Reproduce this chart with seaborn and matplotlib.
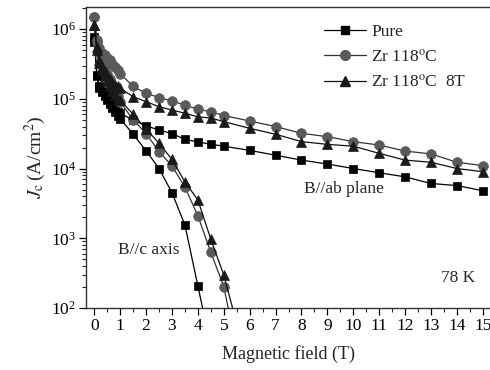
import numpy as np
import pandas as pd
import matplotlib
matplotlib.use("Agg")
import matplotlib.pyplot as plt
import seaborn as sns
from matplotlib.ticker import LogLocator, MultipleLocator, NullFormatter

# ---- data ----
x_ab = [0, 0.1, 0.2, 0.3, 0.4, 0.5, 0.6, 0.7, 0.8, 0.9, 1.0, 1.5, 2.0, 2.5, 3.0, 3.5, 4.0,
        4.5, 5.0, 6, 7, 8, 9, 10, 11, 12, 13, 14, 15]
pure_ab = [7.6e5, 2.2e5, 1.5e5, 1.3e5, 1.17e5, 1.02e5, 8.9e4, 7.9e4, 7.1e4, 6.5e4, 6.2e4,
           4.95e4, 4.1e4, 3.56e4, 3.17e4, 2.62e4, 2.41e4, 2.23e4, 2.09e4, 1.82e4, 1.55e4,
           1.32e4, 1.16e4, 1.0e4, 8.7e3, 7.6e3, 6.1e3, 5.7e3, 4.8e3]
zr_ab = [1.5e6, 7.0e5, 5.3e5, 4.6e5, 4.2e5, 3.9e5, 3.6e5, 3.2e5, 2.9e5, 2.55e5, 2.3e5,
         1.5e5, 1.2e5, 1.04e5, 9.3e4, 8.1e4, 7.1e4, 6.5e4, 5.75e4, 4.8e4, 4.0e4,
         3.2e4, 2.86e4, 2.43e4, 2.17e4, 1.78e4, 1.62e4, 1.23e4, 1.1e4]
zr8_ab = [1.15e6, 5.5e5, 3.6e5, 2.9e5, 2.5e5, 2.2e5, 1.95e5, 1.75e5, 1.6e5, 1.5e5, 1.42e5,
          1.07e5, 9.1e4, 7.7e4, 6.9e4, 6.2e4, 5.5e4, 5.3e4, 4.7e4, 3.77e4, 3.1e4,
          2.43e4, 2.22e4, 2.09e4, 1.65e4, 1.32e4, 1.23e4, 1.0e4, 9.0e3]

x_c_pure = [0, 0.1, 0.2, 0.3, 0.4, 0.5, 0.6, 0.7, 0.8, 0.9, 1.0, 1.5, 2.0, 2.5, 3.0, 3.5, 4.0, 4.5]
pure_c = [6.6e5, 2.1e5, 1.45e5, 1.25e5, 1.1e5, 9.5e4, 8.3e4, 7.3e4, 6.4e4, 5.7e4, 5.2e4,
          3.1e4, 1.8e4, 1.0e4, 4.5e3, 1.55e3, 207, 28]
x_c_zr = [0, 0.1, 0.2, 0.3, 0.4, 0.5, 0.6, 0.7, 0.8, 0.9, 1.0, 1.5, 2.0, 2.5, 3.0, 3.5, 4.0,
          4.5, 5.0, 5.5]
zr_c = [1.5e6, 6.5e5, 4.5e5, 3.5e5, 2.8e5, 2.3e5, 1.9e5, 1.6e5, 1.3e5, 1.1e5, 9.0e4,
        5.0e4, 3.17e4, 1.75e4, 1.09e4, 5.4e3, 2.1e3, 630, 202, 26]
zr8_c = [1.15e6, 5.0e5, 3.3e5, 2.6e5, 2.1e5, 1.8e5, 1.5e5, 1.3e5, 1.15e5, 1.0e5, 9.5e4,
         6.0e4, 3.7e4, 2.3e4, 1.35e4, 6.4e3, 3.55e3, 966, 297, 60]

labels = ["Pure", "Zr 118$^{\\mathrm{o}}$C", "Zr 118$^{\\mathrm{o}}$C  8T"]
x_ticks = list(range(0, 16))

# ---- style ----
sns.set_theme(style="ticks")
plt.rcParams["font.family"] = ["Liberation Serif", "DejaVu Serif"]
plt.rcParams["mathtext.fontset"] = "stix"

fig = plt.figure(figsize=(4.9, 3.7), dpi=100)
ax = fig.add_axes([86 / 490, 1 - 308 / 370, 404 / 490, 301 / 370])

styles = [
    dict(marker="s", color="black", mfc="black", mec="black", ms=6.3),
    dict(marker="o", color="#333333", mfc="#5a5a5a", mec="#5a5a5a", ms=7),
    dict(marker="^", color="#111111", mfc="#1a1a1a", mec="#1a1a1a", ms=7),
]
ab_sets = [(x_ab, pure_ab), (x_ab, zr_ab), (x_ab, zr8_ab)]
c_sets = [(x_c_pure, pure_c), (x_c_zr, zr_c), (x_c_zr, zr8_c)]

handles = []
for (xs, ys), (xc, yc), st, lab in zip(ab_sets, c_sets, styles, labels):
    for xx, yy in [(xs, ys), (xc, yc)]:
        df = pd.DataFrame({"B": xx, "Jc": yy})
        sns.lineplot(data=df, x="B", y="Jc", ax=ax, color=st["color"], lw=0.9,
                     marker=st["marker"], markersize=st["ms"], markerfacecolor=st["mfc"],
                     markeredgecolor=st["mec"], markeredgewidth=0.5, legend=False)
    handles.append(matplotlib.lines.Line2D([], [], color=st["color"], lw=0.9,
                                           marker=st["marker"], markersize=st["ms"],
                                           markerfacecolor=st["mfc"],
                                           markeredgecolor=st["mec"]))

ax.set_yscale("log")
ax.set_ylim(1e2, 2.07e6)
ax.set_xlim(-0.32, 15.28)
ax.set_xticks(x_ticks)
ax.xaxis.set_minor_locator(MultipleLocator(0.5))
ax.yaxis.set_major_locator(LogLocator(base=10, numticks=10))
ax.yaxis.set_minor_locator(LogLocator(base=10, subs=np.arange(2, 10), numticks=20))
ax.yaxis.set_minor_formatter(NullFormatter())

ax.tick_params(axis="both", which="major", direction="out", length=5, width=0.9,
               labelsize=12.5, colors="black", pad=2)
ax.tick_params(axis="both", which="minor", direction="out", length=3, width=0.8)
for s in ["left", "bottom", "top"]:
    ax.spines[s].set_color("#333333")
    ax.spines[s].set_linewidth(1.0)
ax.spines["right"].set_visible(False)

ax.set_xlabel("Magnetic field (T)", fontsize=13, labelpad=8)
ax.set_ylabel("$J_{\\mathrm{c}}\\,$(A/cm$^{2}$)", fontsize=14, labelpad=2)

ax.legend(handles, labels, loc="upper left", bbox_to_anchor=(0.56, 0.985), frameon=False,
          fontsize=12.5, handlelength=2.4, handletextpad=0.3, labelspacing=0.5,
          borderaxespad=0.3)

ax.text(8.1, 5.1e3, "B//ab plane", fontsize=12.5, va="center", ha="left")
ax.text(0.93, 680, "B//c axis", fontsize=12.5, va="center", ha="left")
ax.text(13.37, 272, "78 K", fontsize=12.5, va="center", ha="left")

fig.savefig("out.png", dpi=100)
